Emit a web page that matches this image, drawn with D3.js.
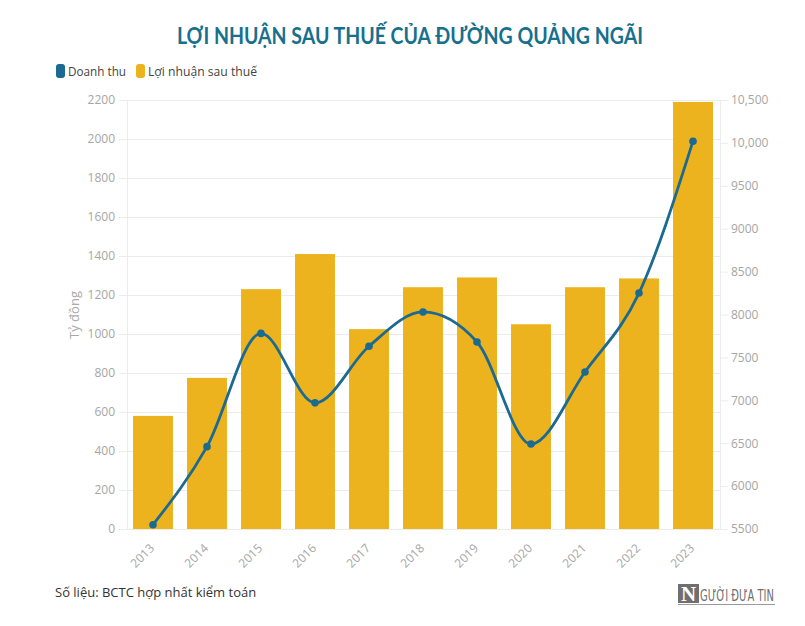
<!DOCTYPE html>
<html><head><meta charset="utf-8">
<script src="https://cdn.jsdelivr.net/npm/d3@7/dist/d3.min.js"></script>
<style>body{margin:0;background:#fff;}svg{display:block;}</style>
</head><body>
<svg id="c" width="805" height="626"></svg>
<script>
const years = ["2013","2014","2015","2016","2017","2018","2019","2020","2021","2022","2023"];
const profit = [580, 775, 1230, 1410, 1025, 1240, 1290, 1050, 1240, 1285, 2190];
const revenue = [5550, 6460, 7780, 6970, 7630, 8030, 7680, 6490, 7330, 8250, 10020];
const leftTicks = [0,200,400,600,800,1000,1200,1400,1600,1800,2000,2200];
const rightTicks = [5500,6000,6500,7000,7500,8000,8500,9000,9500,10000,10500];
const seriesNames = ["Doanh thu", "Lợi nhuận sau thuế"];

const barColor = "#EDB31F", lineColor = "#1B6A91", titleColor = "#17708E";
const svg = d3.select("#c");
const font = "'Source Sans Pro', 'Open Sans', 'Noto Sans', sans-serif";

const x = d3.scaleBand().domain(years).range([126, 720]).paddingInner(0.26).paddingOuter(0.13);
const yL = d3.scaleLinear().domain([0, 2200]).range([529, 100]);
const yR = d3.scaleLinear().domain([5500, 10500]).range([529, 100]);

// title
svg.append("text").attr("x", 177).attr("y", 44)
  .attr("font-family", "Lato, sans-serif").attr("font-weight", "700").attr("font-size", 22)
  .attr("textLength", 466).attr("lengthAdjust", "spacingAndGlyphs")
  .attr("fill", titleColor).text("LỢI NHUẬN SAU THUẾ CỦA ĐƯỜNG QUẢNG NGÃI");

// legend
const lg = svg.append("g").attr("font-family", font).attr("font-size", 13).attr("fill", "#444");
lg.append("rect").attr("x", 56).attr("y", 64).attr("width", 9).attr("height", 14).attr("rx", 3).attr("fill", lineColor);
lg.append("text").attr("x", 68).attr("y", 76).attr("textLength", 58).attr("lengthAdjust", "spacingAndGlyphs").text(seriesNames[0]);
lg.append("rect").attr("x", 136).attr("y", 64).attr("width", 9).attr("height", 14).attr("rx", 3).attr("fill", barColor);
lg.append("text").attr("x", 148).attr("y", 76).attr("textLength", 109).attr("lengthAdjust", "spacingAndGlyphs").text(seriesNames[1]);

// gridlines
svg.append("g").selectAll("line").data(leftTicks).join("line")
  .attr("x1", 127).attr("x2", 720).attr("y1", d => yL(d) + 0.5).attr("y2", d => yL(d) + 0.5)
  .attr("stroke", "#ebebeb").attr("stroke-width", 1);

// axes
const axL = svg.append("g").attr("transform", "translate(127,0)")
  .call(d3.axisLeft(yL).tickValues(leftTicks).tickSize(8).tickPadding(4).tickFormat(d3.format("d")));
const axR = svg.append("g").attr("transform", "translate(720,0)")
  .call(d3.axisRight(yR).tickValues(rightTicks).tickSize(8).tickPadding(3)
    .tickFormat(d => d >= 10000 ? d3.format(",")(d) : String(d)));
[axL, axR].forEach(a => {
  a.select(".domain").attr("stroke", "#ececec");
  a.selectAll(".tick line").attr("stroke", "#ececec");
  a.selectAll("text").attr("fill", "#a6a6a6").attr("font-size", 12).attr("font-family", font);
});

// left axis title
svg.append("text").attr("transform", "translate(79,315) rotate(-90)").attr("text-anchor", "middle")
  .attr("font-family", font).attr("font-size", 13).attr("fill", "#aaa").text("Tỷ đồng");

// bars
svg.append("g").selectAll("rect").data(years).join("rect")
  .attr("x", d => x(d)).attr("width", x.bandwidth())
  .attr("y", (d, i) => yL(profit[i])).attr("height", (d, i) => yL(0) - yL(profit[i]))
  .attr("fill", barColor);

// x labels
const axB = svg.append("g").attr("transform", "translate(0,529)")
  .call(d3.axisBottom(x).tickSize(0).tickPadding(0));
axB.select(".domain").remove();
axB.selectAll("text").attr("fill", "#a6a6a6").attr("font-size", 12).attr("font-family", font)
  .attr("text-anchor", "end").attr("dy", 0)
  .attr("transform", "translate(2,20) rotate(-45)");

// line
const pts = years.map((d, i) => [x(d) + x.bandwidth() / 2, yR(revenue[i])]);
svg.append("path").attr("d", d3.line().curve(d3.curveMonotoneX)(pts))
  .attr("fill", "none").attr("stroke", lineColor).attr("stroke-width", 2.8);
svg.append("g").selectAll("circle").data(pts).join("circle")
  .attr("cx", d => d[0]).attr("cy", d => d[1]).attr("r", 3.8).attr("fill", lineColor);

// footer
svg.append("text").attr("x", 55).attr("y", 597).attr("font-family", font).attr("font-size", 13)
  .attr("fill", "#333").text("Số liệu: BCTC hợp nhất kiểm toán");

// logo
const logo = svg.append("g");
logo.append("rect").attr("x", 678).attr("y", 584).attr("width", 21).attr("height", 19).attr("fill", "#6f6f6f");
logo.append("text").attr("x", 688.5).attr("y", 601).attr("text-anchor", "middle")
  .attr("font-family", "'Liberation Serif', serif").attr("font-weight", "bold").attr("font-size", 21)
  .attr("fill", "#fff").text("N");
logo.append("text").attr("transform", "translate(700,601) scale(0.62,1)")
  .attr("font-family", "'DejaVu Sans', sans-serif")
  .attr("font-size", 16).attr("fill", "#6f6f6f").text("GƯỜI ĐƯA TIN");
logo.append("line").attr("x1", 678).attr("x2", 775).attr("y1", 604.5).attr("y2", 604.5)
  .attr("stroke", "#9a9a9a").attr("stroke-width", 1);
</script>
</body></html>
